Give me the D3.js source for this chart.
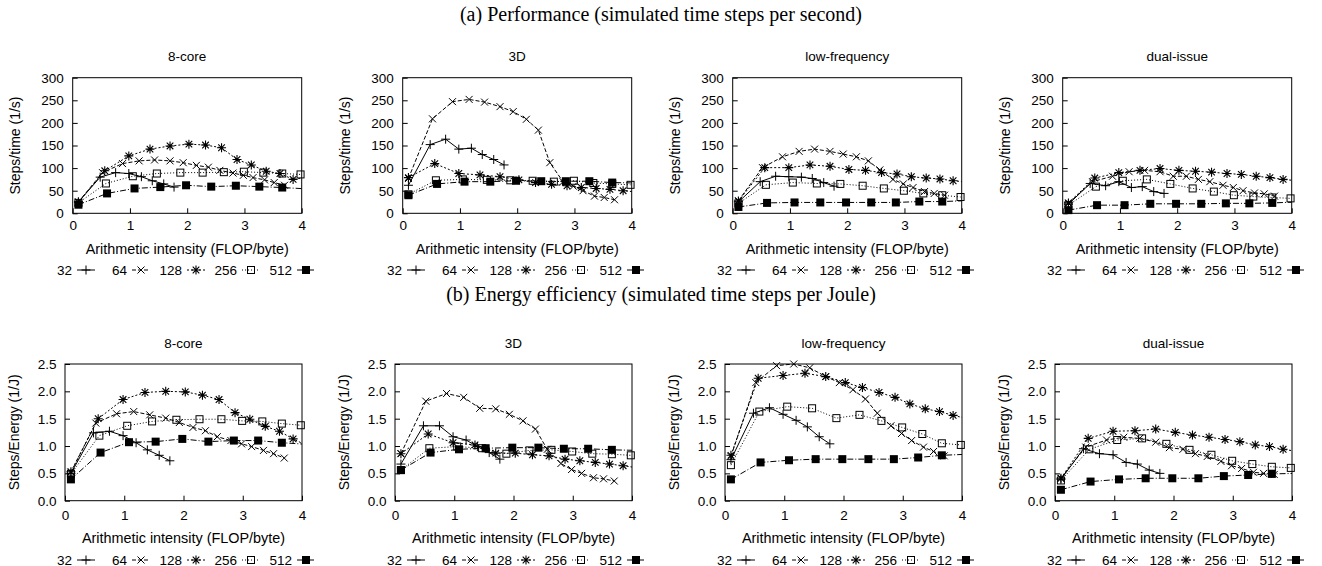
<!DOCTYPE html>
<html>
<head>
<meta charset="utf-8">
<script src="https://cdn.jsdelivr.net/npm/d3@7"></script>
<style>
body { margin: 0; background: #fff; }
text { font-family: "Liberation Sans", Arial, Helvetica, sans-serif; fill: #000; }
.sec { font-family: "Liberation Serif", "Times New Roman", serif; }
</style>
</head>
<body>
<script>
// series (problem sizes) and their arithmetic intensities
var sizes = ['32', '64', '128', '256', '512']
var xs32 = [0.1, 0.48, 0.75, 0.98, 1.2, 1.39, 1.59, 1.77]
var xs64 = [0.1, 0.52, 0.87, 1.16, 1.43, 1.7, 1.93, 2.16, 2.37, 2.57, 2.8, 2.98, 3.15, 3.35, 3.52, 3.7]
var xs128 = [0.1, 0.56, 0.98, 1.35, 1.7, 2.03, 2.32, 2.6, 2.87, 3.12, 3.38, 3.62, 3.85, 4.1]
var xs256 = [0.1, 0.58, 1.05, 1.47, 1.88, 2.27, 2.64, 2.99, 3.33, 3.66, 3.98]
var xs512 = [0.1, 0.6, 1.08, 1.53, 1.98, 2.42, 2.85, 3.26, 3.66, 4.1]
var seriesX = [xs32, xs64, xs128, xs256, xs512]

var panelNames = ['8-core', '3D', 'low-frequency', 'dual-issue']
var xTicks = [0, 1, 2, 3, 4]
var perfTicks = [0, 50, 100, 150, 200, 250, 300]
var energyTicks = [0, 0.5, 1.0, 1.5, 2.0, 2.5]

// (a) performance, steps per second
var perf8core = [
	[25, 80, 90, 88, 81, 72, 65, 58],
	[25, 90, 110, 116, 118, 116, 112, 106, 102, 95, 89, 84, 79, 74, 68, 62],
	[25, 94, 127, 142, 149, 153, 151, 145, 119, 107, 93, 88, 75, 80],
	[23, 66, 82, 88, 90, 90, 91, 92, 90, 88, 86],
	[19, 44, 55, 58, 62, 59, 61, 59, 57, 54]
]
var perf3D = [
	[62, 152, 164, 142, 144, 130, 119, 107],
	[77, 209, 247, 252, 246, 236, 225, 208, 184, 112, 70, 60, 50, 38, 35, 30],
	[79, 110, 88, 85, 81, 74, 68, 64, 61, 57, 55, 53, 50, 47],
	[42, 73, 75, 74, 73, 72, 70, 72, 67, 65, 63],
	[40, 65, 70, 70, 72, 71, 71, 71, 68, 67]
]
var perfLowFreq = [
	[25, 70, 82, 81, 80, 77, 68, 60],
	[28, 101, 125, 137, 142, 137, 131, 125, 116, 96, 75, 65, 57, 48, 44, 40],
	[27, 101, 101, 107, 104, 97, 95, 90, 87, 81, 78, 76, 72, 69],
	[22, 63, 68, 66, 65, 61, 55, 50, 44, 40, 36],
	[14, 23, 24, 24, 24, 24, 24, 26, 26, 28]
]
var perfDual = [
	[20, 66, 61, 70, 57, 59, 48, 44],
	[22, 70, 82, 92, 95, 92, 82, 82, 75, 70, 62, 57, 50, 45, 43, 38],
	[23, 78, 90, 95, 99, 95, 93, 91, 88, 86, 82, 79, 75, 72],
	[18, 59, 72, 75, 65, 55, 48, 40, 37, 35, 33],
	[7, 18, 18, 21, 21, 21, 22, 22, 23, 25]
]

// (b) energy efficiency, steps per Joule
var energy8core = [
	[0.5, 1.24, 1.27, 1.19, 1.06, 0.93, 0.83, 0.73],
	[0.52, 1.42, 1.59, 1.63, 1.57, 1.51, 1.43, 1.34, 1.28, 1.17, 1.1, 1.04, 0.99, 0.92, 0.86, 0.78],
	[0.53, 1.5, 1.85, 1.98, 2.0, 1.99, 1.93, 1.85, 1.61, 1.49, 1.36, 1.27, 1.13, 1.0],
	[0.49, 1.19, 1.37, 1.45, 1.48, 1.49, 1.49, 1.46, 1.45, 1.41, 1.38],
	[0.39, 0.88, 1.07, 1.08, 1.13, 1.08, 1.1, 1.1, 1.06, 1.03]
]
var energy3D = [
	[0.67, 1.37, 1.37, 1.17, 1.11, 0.99, 0.88, 0.76],
	[0.86, 1.82, 1.96, 1.89, 1.69, 1.68, 1.58, 1.46, 1.31, 0.94, 0.68, 0.57, 0.5, 0.42, 0.4, 0.36],
	[0.86, 1.22, 1.06, 1.02, 0.87, 0.87, 0.84, 0.82, 0.76, 0.73, 0.7, 0.67, 0.64, 0.6],
	[0.56, 0.96, 0.99, 0.96, 0.86, 0.92, 0.93, 0.9, 0.86, 0.85, 0.83],
	[0.56, 0.88, 0.94, 0.96, 0.97, 0.97, 0.95, 0.95, 0.93, 0.92]
]
var energyLowFreq = [
	[0.75, 1.6, 1.7, 1.58, 1.47, 1.35, 1.17, 1.04],
	[0.81, 2.16, 2.47, 2.5, 2.43, 2.27, 2.16, 2.03, 1.86, 1.6, 1.37, 1.23, 1.1, 0.98, 0.9, 0.82],
	[0.83, 2.24, 2.29, 2.33, 2.27, 2.16, 2.07, 1.98, 1.89, 1.77, 1.68, 1.63, 1.56, 1.5],
	[0.65, 1.63, 1.72, 1.69, 1.51, 1.57, 1.46, 1.34, 1.22, 1.05, 1.02],
	[0.39, 0.7, 0.74, 0.76, 0.76, 0.76, 0.76, 0.79, 0.83, 0.85]
]
var energyDual = [
	[0.39, 0.95, 0.86, 0.84, 0.7, 0.67, 0.56, 0.5],
	[0.41, 0.98, 1.11, 1.16, 1.14, 1.07, 0.97, 0.94, 0.86, 0.81, 0.72, 0.64, 0.59, 0.52, 0.5, 0.48],
	[0.41, 1.14, 1.27, 1.28, 1.31, 1.25, 1.2, 1.16, 1.12, 1.08, 1.02, 0.99, 0.94, 0.9],
	[0.37, 0.94, 1.11, 1.14, 1.04, 0.93, 0.84, 0.73, 0.67, 0.62, 0.6],
	[0.2, 0.35, 0.39, 0.41, 0.41, 0.41, 0.45, 0.47, 0.49, 0.5]
]

var width = 1322
var height = 566
var panelStep = 330
var fontSize = '13.5px'

// line style for each series (gnuplot-ish dash types)
var dashes = [null, '4,2', '2,2', '1,2', '6,2,1,2']
var symbols = ['plus', 'cross', 'star', 'box', 'fbox']

// key: labels right-justified in equal columns
var keyStart = 72
var keyCol = 55
var keyGap = 5
var keySample = 18

var rows = [
	{ title: '(a) Performance (simulated time steps per second)', titleY: 21,
	  top: 77.7, bottom: 213.3, left: 72.7, right: 301.7,
	  ymax: 300, ticks: perfTicks, fmt: d3.format('d'), ylabel: 'Steps/time (1/s)', ylabelX: 20,
	  xpad: 7.5, ypad: 9, nameY: 61, xlabelY: 253.5, legendY: 274.5,
	  data: [perf8core, perf3D, perfLowFreq, perfDual] },
	{ title: '(b) Energy efficiency (simulated time steps per Joule)', titleY: 301,
	  top: 364, bottom: 500.7, left: 65, right: 302,
	  ymax: 2.5, ticks: energyTicks, fmt: d3.format('.1f'), ylabel: 'Steps/Energy (1/J)', ylabelX: 19,
	  xpad: 9.5, ypad: 8.5, nameY: 348.3, xlabelY: 542.5, legendY: 564.5,
	  data: [energy8core, energy3D, energyLowFreq, energyDual] }
]

var svg = d3.select('body')
	.append('svg')
		.attr('width', width)
		.attr('height', height)

// draw a point symbol centred on the current position
function drawSymbol(sel, kind) {
	if (kind == 'plus') {
		sel.append('path').attr('d', 'M-4.5,0H4.5M0,-4.5V4.5')
			.attr('stroke', '#000').attr('stroke-width', 1).attr('fill', 'none')
	} else if (kind == 'cross') {
		sel.append('path').attr('d', 'M-3.5,-3.5L3.5,3.5M-3.5,3.5L3.5,-3.5')
			.attr('stroke', '#000').attr('stroke-width', 1).attr('fill', 'none')
	} else if (kind == 'star') {
		sel.append('path').attr('d', 'M-4.5,0H4.5M0,-4.5V4.5M-3.3,-3.3L3.3,3.3M-3.3,3.3L3.3,-3.3')
			.attr('stroke', '#000').attr('stroke-width', 1.1).attr('fill', 'none')
	} else if (kind == 'box') {
		sel.append('rect').attr('x', -3.5).attr('y', -3.5).attr('width', 7).attr('height', 7)
			.attr('stroke', '#000').attr('stroke-width', 1).attr('fill', 'none')
	} else {
		sel.append('rect').attr('x', -4).attr('y', -4).attr('width', 8).attr('height', 8)
			.attr('fill', '#000')
	}
}

rows.forEach(function(row, ri) {

	svg.append('text')
		.attr('class', 'sec')
		.attr('x', width / 2)
		.attr('y', row.titleY)
		.attr('text-anchor', 'middle')
		.style('font-size', '20px')
		.text(row.title)

	row.data.forEach(function(panel, pi) {

		var ox = pi * panelStep
		var x = d3.scaleLinear().domain([0, 4]).range([ox + row.left, ox + row.right])
		var y = d3.scaleLinear().domain([0, row.ymax]).range([row.bottom, row.top])

		var g = svg.append('g').style('font-size', fontSize)

		// panel name
		g.append('text')
			.attr('x', (x.range()[0] + x.range()[1]) / 2)
			.attr('y', row.nameY)
			.attr('text-anchor', 'middle')
			.text(panelNames[pi])

		// axes, ticks pointing inward
		var xAxis = d3.axisBottom(x).tickValues(xTicks).tickSizeInner(-5).tickSizeOuter(0).tickPadding(row.xpad)
			.tickFormat(d3.format('d'))
		var yAxis = d3.axisLeft(y).tickValues(row.ticks).tickSizeInner(-5).tickSizeOuter(0).tickPadding(row.ypad)
			.tickFormat(row.fmt)

		var gx = g.append('g').attr('transform', 'translate(0,' + row.bottom + ')').call(xAxis)
		var gy = g.append('g').attr('transform', 'translate(' + x.range()[0] + ',0)').call(yAxis)
		;[gx, gy].forEach(function(a) {
			a.attr('font-size', null).attr('font-family', null)
			a.select('.domain').remove()
			a.selectAll('text').attr('fill', '#000')
			a.selectAll('line').attr('stroke', '#000')
		})

		// clip for the lines
		var clipId = 'clip' + ri + '_' + pi
		svg.append('clipPath').attr('id', clipId)
			.append('rect')
				.attr('x', x.range()[0]).attr('y', row.top)
				.attr('width', x.range()[1] - x.range()[0]).attr('height', row.bottom - row.top)

		var line = d3.line()
			.x(function(d) { return x(d[0]) })
			.y(function(d) { return y(d[1]) })

		panel.forEach(function(vals, si) {
			var pts = seriesX[si].map(function(xv, k) { return [xv, vals[k]] })

			g.append('path')
				.datum(pts)
				.attr('d', line)
				.attr('clip-path', 'url(#' + clipId + ')')
				.attr('fill', 'none')
				.attr('stroke', '#000')
				.attr('stroke-width', 1)
				.attr('stroke-dasharray', dashes[si])

			g.selectAll(null)
					.data(pts.filter(function(d) { return d[0] <= 4 }))
				.enter().append('g')
					.attr('transform', function(d) { return 'translate(' + x(d[0]) + ',' + y(d[1]) + ')' })
					.each(function() { drawSymbol(d3.select(this), symbols[si]) })
		})

		// border box
		g.append('rect')
			.attr('x', x.range()[0]).attr('y', row.top)
			.attr('width', x.range()[1] - x.range()[0]).attr('height', row.bottom - row.top)
			.attr('fill', 'none').attr('stroke', '#000').attr('stroke-width', 1)

		// axis titles
		g.append('text')
			.attr('x', (x.range()[0] + x.range()[1]) / 2)
			.attr('y', row.xlabelY)
			.attr('text-anchor', 'middle')
			.style('font-size', '14.4px')
			.text('Arithmetic intensity (FLOP/byte)')

		g.append('text')
			.attr('transform', 'translate(' + (ox + row.ylabelX) + ',' + ((row.top + row.bottom) / 2) + ')rotate(-90)')
			.attr('text-anchor', 'middle')
			.style('font-size', '14px')
			.text(row.ylabel)

		// key along the bottom
		sizes.forEach(function(s, si) {
			var kx = ox + keyStart + si * keyCol
			g.append('text')
				.attr('x', kx)
				.attr('y', row.legendY)
				.attr('text-anchor', 'end')
				.text(s)
			var ly = row.legendY - 4.5
			g.append('line')
				.attr('x1', kx + keyGap).attr('x2', kx + keyGap + keySample)
				.attr('y1', ly).attr('y2', ly)
				.attr('stroke', '#000').attr('stroke-width', 1)
				.attr('stroke-dasharray', dashes[si])
			var m = g.append('g').attr('transform', 'translate(' + (kx + keyGap + keySample / 2) + ',' + ly + ')')
			drawSymbol(m, symbols[si])
		})
	})
})
</script>
</body>
</html>
